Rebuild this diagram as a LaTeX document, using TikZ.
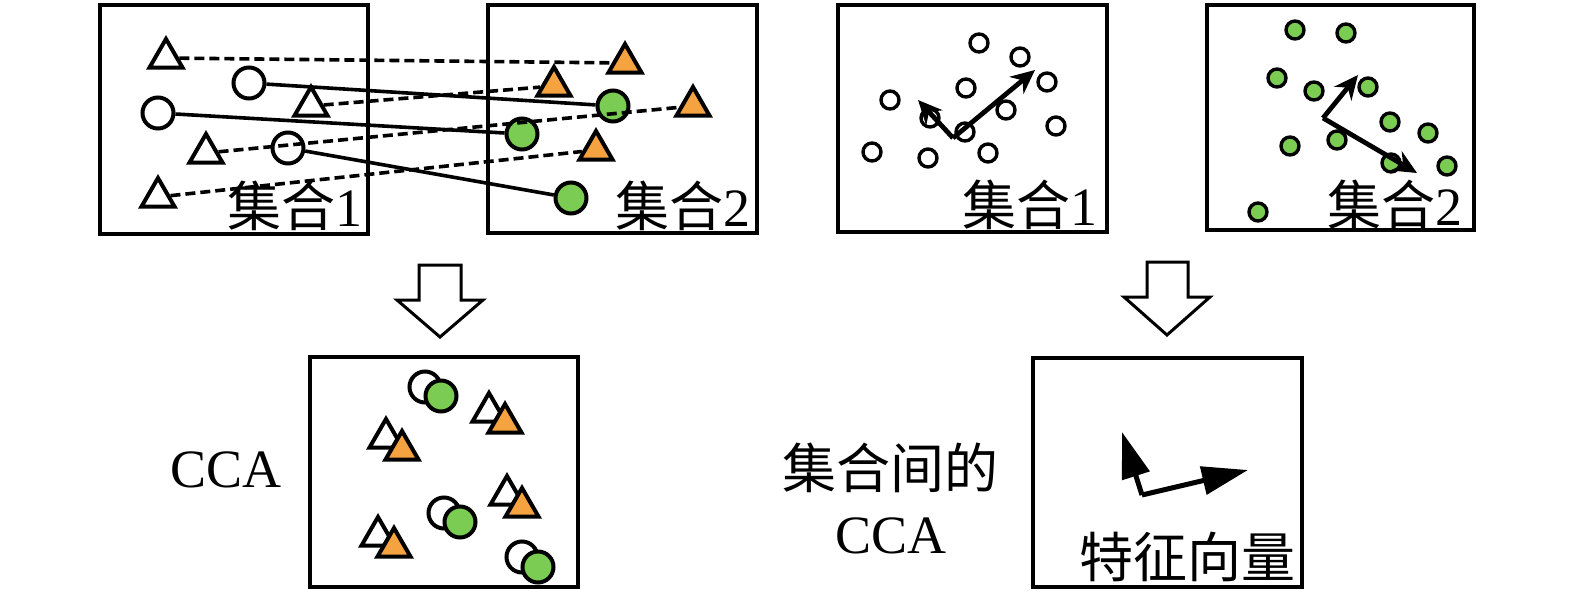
\documentclass[tikz,border=0pt]{standalone}
\usepackage{fontspec}
\setmainfont{Liberation Serif}
\newfontfamily\cjk{Noto Sans CJK SC}
\usetikzlibrary{arrows.meta,shapes.geometric}
\definecolor{orng}{RGB}{245,162,65}
\definecolor{grn}{RGB}{122,204,82}
\begin{document}
\begin{tikzpicture}[x=0.5pt,y=-0.5pt,
  panel/.style={line width=2pt},
  bigc/.style={circle,draw,line width=2pt,inner sep=0pt,minimum size=15.5pt,fill=white},
  gbigc/.style={bigc,fill=grn},
  tri/.style={regular polygon,regular polygon sides=3,draw,line width=2pt,inner sep=0pt,minimum size=19pt,fill=white},
  otri/.style={tri,fill=orng},
  smc/.style={circle,draw,line width=1.7pt,inner sep=0pt,minimum size=9pt,fill=white},
  gsmc/.style={smc,fill=grn},
  dashln/.style={line width=1.8pt,dash pattern=on 5pt off 2.5pt},
  solidln/.style={line width=1.8pt},
  vec/.style={line width=2.4pt,-{Stealth[length=12pt,width=11pt]}},
  vecbig/.style={line width=2.5pt,-{Triangle[length=23pt,width=14pt]}},
  hollow/.style={line width=1.5pt,fill=white},
  lbl/.style={font=\fontsize{27}{30}\selectfont,inner sep=0pt}
]
\useasboundingbox (0,0) rectangle (1575,594);
% panels
\draw[panel] (100,5) rectangle (368,234);
\draw[panel] (488,5) rectangle (757,233);
\draw[panel] (838,5) rectangle (1107,232);
\draw[panel] (1207,5) rectangle (1474,230);
\draw[panel] (310,357) rectangle (578,587);
\draw[panel] (1033,358) rectangle (1302,587);
% labels
\node[lbl,anchor=base east] (l1) at (363,226) {{\cjk 集合}1};
\node[lbl,anchor=base east] (l2) at (751,226) {{\cjk 集合}2};
\node[lbl,anchor=base east] (l3) at (1098,225) {{\cjk 集合}1};
\node[lbl,anchor=base east] (l4) at (1463,225) {{\cjk 集合}2};
\node[lbl,anchor=base west] (lcca) at (170,487) {CCA};
\node[lbl,anchor=base] (lbt) at (890,488) {\cjk 集合间的};
\node[lbl,anchor=base] (lbc) at (891,553) {CCA};
\node[lbl,anchor=base] (lev) at (1187,577) {\cjk 特征向量};
% panel 1 / 2 shapes
\node[tri] (T1) at (166,58) {};
\node[bigc] (C1) at (249,83) {};
\node[tri] (T2) at (311,106) {};
\node[bigc] (C2) at (158,113) {};
\node[tri] (T3) at (206,153) {};
\node[bigc] (C3) at (288,148) {};
\node[tri] (T4) at (158,197) {};
\node[otri] (O1) at (625,63) {};
\node[otri] (O2) at (554,86) {};
\node[gbigc] (G1) at (613,106) {};
\node[otri] (O3) at (693,106) {};
\node[gbigc] (G2) at (522,134) {};
\node[otri] (O4) at (596,150) {};
\node[gbigc] (G3) at (571,198) {};
\draw[dashln] (T1) -- (O1);
\draw[dashln] (T2) -- (O2);
\draw[dashln] (T3) -- (O3);
\draw[dashln] (T4) -- (O4);
\draw[solidln] (C1) -- (G1);
\draw[solidln] (C2) -- (G2);
\draw[solidln] (C3) -- (G3);
% panel 3
\foreach \p [count=\i] in {(979,43),(1020,57),(1047,82),(966,88),(890,100),(1006,110),(930,118),(1056,126),(965,132),(872,152),(928,158),(988,153)}
  \node[smc] (s\i) at \p {};
\coordinate (o3) at (953,138);
\coordinate (a3) at (1035,70);
\coordinate (b3) at (918,100);
\draw[vec] (o3) -- (a3);
\draw[vec] (o3) -- (b3);
% panel 4
\foreach \p [count=\i] in {(1295,30),(1346,33),(1277,78),(1314,91),(1368,87),(1390,122),(1428,133),(1290,146),(1337,140),(1391,163),(1447,166),(1258,212)}
  \node[gsmc] (g\i) at \p {};
\coordinate (o4) at (1323,118);
\coordinate (a4) at (1358,75);
\coordinate (b4) at (1417,173);
\draw[vec] (o4) -- (a4);
\draw[vec] (o4) -- (b4);
% hollow arrows
\draw[hollow] (419,265) -- (461,265) -- (461,300) -- (483,300) -- (440,337) -- (397,300) -- (419,300) -- cycle;
\draw[hollow] (1147,262) -- (1188,262) -- (1188,297) -- (1210,297) -- (1167,335) -- (1124,297) -- (1147,297) -- cycle;
% panel 5
\node[bigc] (w1) at (425,387) {};
\node[gbigc] (v1) at (441,396) {};
\node[tri] (wt1) at (489,412) {};
\node[otri] (ot1) at (505,423) {};
\node[tri] (wt2) at (386,438) {};
\node[otri] (ot2) at (402,450) {};
\node[tri] (wt3) at (507,495) {};
\node[otri] (ot3) at (522,507) {};
\node[bigc] (w2) at (444,513) {};
\node[gbigc] (v2) at (460,522) {};
\node[tri] (wt4) at (378,536) {};
\node[otri] (ot4) at (394,547) {};
\node[bigc] (w3) at (522,557) {};
\node[gbigc] (v3) at (538,567) {};
% panel 6
\coordinate (o6) at (1142,495);
\coordinate (a6) at (1122,432);
\coordinate (b6) at (1248,470);
\draw[vecbig] (o6) -- (a6);
\draw[vecbig] (o6) -- (b6);
\end{tikzpicture}
\end{document}
